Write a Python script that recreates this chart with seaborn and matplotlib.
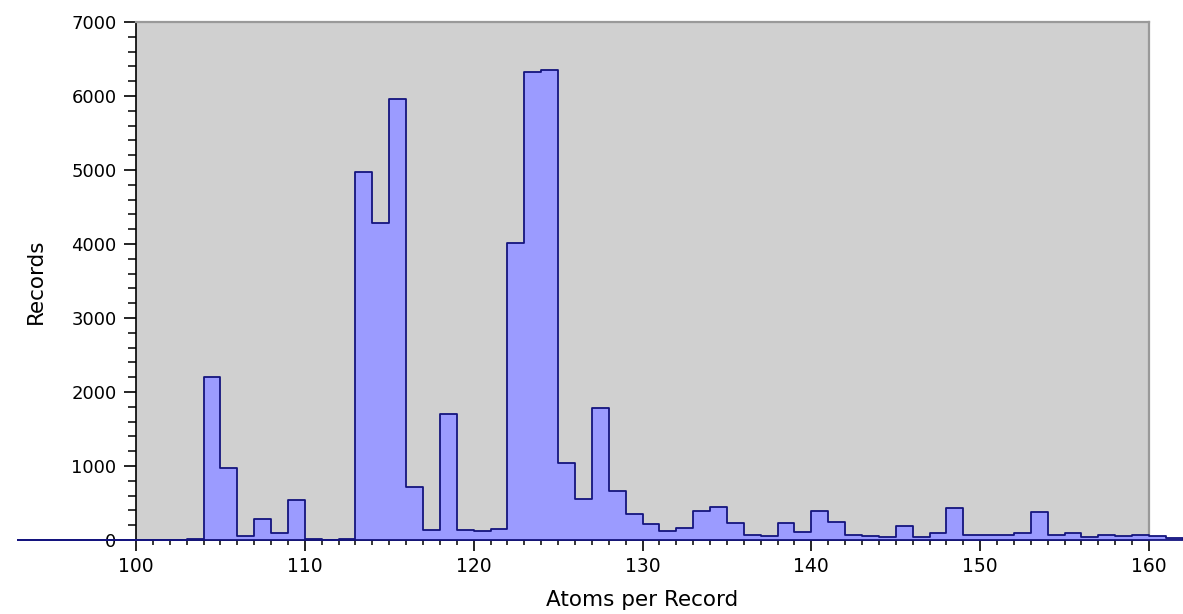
import numpy as np
import pandas as pd
import seaborn as sns
import matplotlib.pyplot as plt
from matplotlib.ticker import MultipleLocator

# histogram counts per integer bin (left edge = atoms value)
atoms = list(range(93, 162))
records = [
    0, 0, 0, 0, 0, 0, 0, 0, 0, 0,           # 93-102
    20, 2200, 970, 50, 290, 95, 540, 18, 5, 18,      # 103-112
    4970, 4285, 5960, 715, 135, 1700, 130, 120, 145, 4020,  # 113-122
    6330, 6350, 1040, 555, 1780, 665, 355, 218, 127, 164,   # 123-132
    391, 441, 223, 68, 50, 223, 114, 391, 245, 68,   # 133-142
    59, 41, 191, 36, 95, 432, 64, 64, 64, 91,        # 143-152
    377, 64, 95, 45, 64, 59, 64, 59, 27,             # 153-161
]
bin_edges = list(range(93, 163))

df = pd.DataFrame({"atoms": np.array(atoms) + 0.5, "records": records})

sns.set_style("ticks")
plt.rcParams['font.family'] = ['DejaVu Sans']
plt.rcParams['text.color'] = 'black'
plt.rcParams['axes.labelcolor'] = 'black'
plt.rcParams['xtick.color'] = 'black'
plt.rcParams['ytick.color'] = 'black'

fig = plt.figure(figsize=(11.83, 6.14), dpi=100)
ax = fig.add_axes([136 / 1183, 74 / 614, 1013 / 1183, 518 / 614])
ax.set_facecolor("#d0d0d0")

sns.histplot(data=df, x="atoms", weights="records", bins=bin_edges,
             element="step", fill=True, alpha=1, ax=ax)

for coll in ax.collections:
    coll.set_facecolor("#9b9bff")
    coll.set_edgecolor("#14147e")
    coll.set_linewidth(1.3)
    coll.set_clip_on(False)
    coll.set_zorder(3)
for ln in ax.lines:
    ln.set_color("#14147e")
    ln.set_clip_on(False)
    ln.set_zorder(3)

ax.set_xlim(100, 160)
ax.set_ylim(0, 7000)
ax.xaxis.set_major_locator(MultipleLocator(10))
ax.xaxis.set_minor_locator(MultipleLocator(1))
ax.yaxis.set_major_locator(MultipleLocator(1000))
ax.yaxis.set_minor_locator(MultipleLocator(200))

ax.tick_params(axis="x", which="major", length=8, width=1.2, labelsize=13.5, pad=4)
ax.tick_params(axis="x", which="minor", length=3.5, width=1.1)
ax.tick_params(axis="y", which="major", length=9, width=1.2, labelsize=13, pad=5)
ax.tick_params(axis="y", which="minor", length=6, width=1.1)

for side in ["top", "right"]:
    ax.spines[side].set_color("#999999")
    ax.spines[side].set_linewidth(1.6)
for side in ["left", "bottom"]:
    ax.spines[side].set_color("black")
    ax.spines[side].set_linewidth(1.2)

ax.set_xlabel("Atoms per Record", fontsize=15.5, labelpad=10)
ax.set_ylabel("Records", fontsize=15.5, labelpad=18)

fig.savefig("out.png", dpi=100)
